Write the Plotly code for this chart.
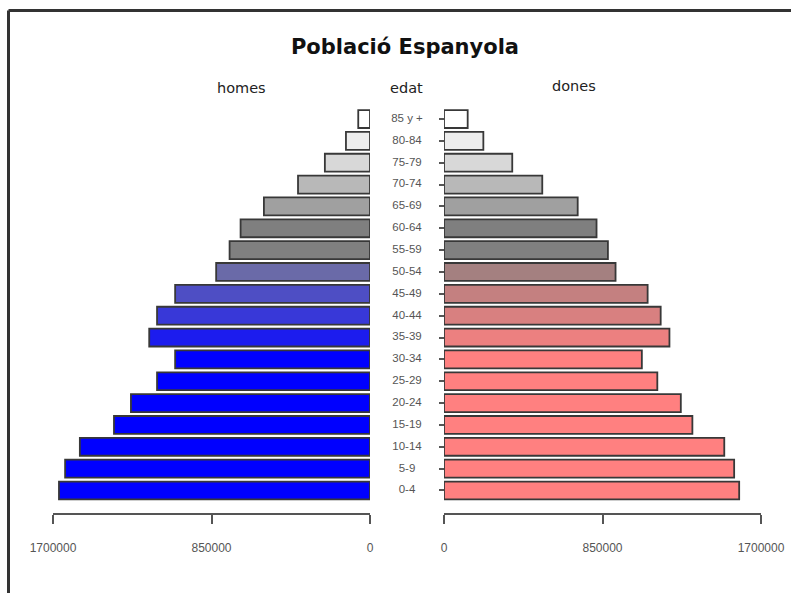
import plotly.graph_objects as go

ages = ["0-4", "5-9", "10-14", "15-19", "20-24", "25-29", "30-34", "35-39", "40-44",
        "45-49", "50-54", "55-59", "60-64", "65-69", "70-74", "75-79", "80-84", "85 y +"]
homes = [1668000, 1635000, 1556000, 1373000, 1282000, 1142000, 1045000, 1184000, 1142000,
         1045000, 825000, 753000, 694000, 569000, 386000, 242000, 129000, 63000]
dones = [1583000, 1556000, 1503000, 1332000, 1270000, 1144000, 1061000, 1209000, 1162000,
         1092000, 920000, 879000, 818000, 717000, 527000, 366000, 211000, 127000]
homes_colors = ["#0000ff"] * 7 + ["#1c1cee", "#3838d8", "#4e4ec4", "#6a6aa8",
                                  "#808080", "#7f7f7f", "#a0a0a0", "#b8b8b8", "#d8d8d8", "#ededed", "#ffffff"]
dones_colors = ["#ff8080"] * 7 + ["#ec8080", "#d88080", "#c48080", "#a48080",
                                  "#808080", "#7f7f7f", "#a0a0a0", "#b8b8b8", "#d8d8d8", "#ededed", "#ffffff"]
tick_vals = [0, 850000, 1700000]
tick_text = ["0", "850000", "1700000"]

W, H = 791, 593
def px(x):
    return x / W
def py(y):
    return 1 - y / H

fig = go.Figure()
fig.add_trace(go.Bar(y=list(range(len(ages))), x=homes, orientation="h",
                     marker=dict(color=homes_colors, line=dict(color="#383838", width=1.8)),
                     xaxis="x", yaxis="y", showlegend=False, hoverinfo="x"))
fig.add_trace(go.Bar(y=list(range(len(ages))), x=dones, orientation="h",
                     marker=dict(color=dones_colors, line=dict(color="#383838", width=1.8)),
                     xaxis="x2", yaxis="y", showlegend=False, hoverinfo="x"))
fig.add_trace(go.Scatter(y=list(range(len(ages))), x=[0.5] * len(ages), mode="text",
                         text=ages, textposition="middle center",
                         textfont=dict(family="Liberation Sans", size=11.5, color="#555555"),
                         xaxis="x3", yaxis="y", showlegend=False, hoverinfo="skip"))

axis_common = dict(showgrid=False, zeroline=False, showline=True, linecolor="#555555", linewidth=1.5,
                   ticks="outside", ticklen=9, tickwidth=1.5, tickcolor="#555555",
                   tickvals=tick_vals, ticktext=tick_text, ticklabelstandoff=14,
                   tickfont=dict(family="Liberation Sans", size=12, color="#555555"),
                   anchor="y", fixedrange=True, automargin=False)

fig.update_layout(
    template="none",
    width=W, height=H,
    margin=dict(l=0, r=0, t=0, b=0, pad=0, autoexpand=False),
    paper_bgcolor="white", plot_bgcolor="white",
    bargap=0.18,
    xaxis=dict(domain=[px(53), px(370)], range=[1700000, 0], **axis_common),
    xaxis2=dict(domain=[px(444), px(761)], range=[0, 1700000], **axis_common),
    xaxis3=dict(domain=[px(372), px(442)], range=[0, 1], visible=False, anchor="y", automargin=False),
    yaxis=dict(domain=[py(513), py(108.1)], range=[-1.03, 17.5], anchor="free", position=px(444),
               showgrid=False, zeroline=False, showline=False, showticklabels=False,
               ticks="outside", ticklen=5, tickwidth=1.5, tickcolor="#555555",
               tickvals=list(range(len(ages))), fixedrange=True, automargin=False),
    title=dict(text="<b>Població Espanyola</b>", x=px(405), y=py(47), xanchor="center", yanchor="middle",
               xref="paper", yref="paper",
               font=dict(family="DejaVu Sans", size=21, color="#111111")),
    annotations=[
        dict(text="homes", x=px(241), y=py(88), xref="paper", yref="paper", showarrow=False,
             xanchor="center", yanchor="middle",
             font=dict(family="DejaVu Sans", size=14.5, color="#222222")),
        dict(text="edat", x=px(407), y=py(88), xref="paper", yref="paper", showarrow=False,
             xanchor="center", yanchor="middle",
             font=dict(family="DejaVu Sans", size=14.5, color="#222222")),
        dict(text="dones", x=px(574), y=py(86), xref="paper", yref="paper", showarrow=False,
             xanchor="center", yanchor="middle",
             font=dict(family="DejaVu Sans", size=14.5, color="#222222")),
    ],
    shapes=[
        dict(type="line", xref="paper", yref="paper", x0=px(8.5), x1=1, y0=py(10.5), y1=py(10.5),
             line=dict(color="#333333", width=3)),
        dict(type="line", xref="paper", yref="paper", x0=px(8.5), x1=px(8.5), y0=py(10.5), y1=0,
             line=dict(color="#333333", width=3)),
    ],
)

fig.write_html("out.html", config={"displayModeBar": False},
               post_script="document.body.style.margin='0';")
